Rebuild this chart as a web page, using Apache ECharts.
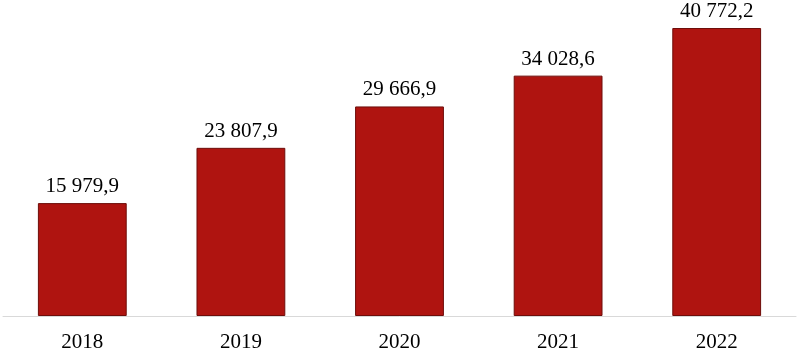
<!DOCTYPE html>
<html><head><meta charset="utf-8">
<script src="https://cdn.jsdelivr.net/npm/echarts@6/dist/echarts.min.js"></script>
<style>html,body{margin:0;padding:0;background:#fff}#c{width:801px;height:354px}</style>
</head><body><div id="c"></div>
<script>
const categories = ['2018','2019','2020','2021','2022'];
const values = [15979.9, 23807.9, 29666.9, 34028.6, 40772.2];
function fmt(v){
  const parts = v.toFixed(1).split('.');
  return parts[0].replace(/\B(?=(\d{3})+(?!\d))/g,' ') + ',' + parts[1];
}
const chart = echarts.init(document.getElementById('c'));
chart.setOption({
  animation:false,
  grid:{left:3,right:5,top:28,bottom:38,containLabel:false},
  xAxis:{type:'category',data:categories,
    axisLine:{lineStyle:{color:'#d9d9d9',width:1}},
    axisTick:{show:false},
    axisLabel:{color:'#000',fontFamily:'Liberation Serif',fontSize:21,margin:16}},
  yAxis:{type:'value',min:0,max:40772.2,show:false,splitLine:{show:false}},
  series:[{type:'bar',data:values,barWidth:'56%',
    itemStyle:{color:'#AF1410',borderColor:'#6e0d0a',borderWidth:1},
    label:{show:true,position:'top',distance:6,color:'#000',fontFamily:'Liberation Serif',fontSize:21,
      formatter:p=>fmt(p.value)}}]
});
</script></body></html>
